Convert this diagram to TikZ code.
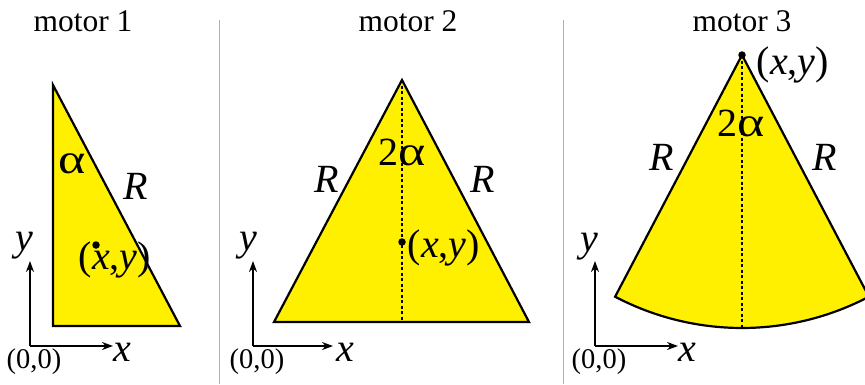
\documentclass[tikz,border=0pt]{standalone}
\usepackage{fontspec}
\usepackage{graphicx}
\setmainfont{Liberation Serif}
\usetikzlibrary{arrows.meta}
\definecolor{fillyellow}{RGB}{255,240,0}
\definecolor{sepgray}{RGB}{175,175,175}
\newcommand{\wal}{\scalebox{1.3}[1.05]{α}}
\begin{document}
\begin{tikzpicture}[x=1pt,y=-1pt,
  shapeline/.style={draw=black,line width=2.2pt,fill=fillyellow,line join=miter},
  axisarrow/.style={line width=2pt,-{Stealth[length=11pt,width=8pt]}},
  midline/.style={line width=1.6pt,dash pattern=on 3pt off 2.5pt},
  sep/.style={draw=sepgray,line width=1pt},
  ttl/.style={font=\fontsize{31.5}{34}\selectfont,inner sep=0pt},
  mlab/.style={font=\fontsize{40}{44}\selectfont,inner sep=0pt},
  olab/.style={font=\fontsize{28.5}{30}\selectfont,inner sep=0pt},
  dotstyle/.style={circle,fill=black,inner sep=0pt,minimum size=7.5pt}]
\useasboundingbox (0,0) rectangle (865,384);
\fill[white] (0,0) rectangle (865,384);

% separators
\coordinate (s1t) at (219,20); \coordinate (s1b) at (219,384);
\coordinate (s2t) at (563,20); \coordinate (s2b) at (563,384);
\draw[sep] (s1t) -- (s1b);
\draw[sep] (s2t) -- (s2b);

% ---------- motor 1 ----------
\node[ttl,anchor=base] (t1) at (83,31) {motor 1};
\coordinate (p1a) at (53,85);
\coordinate (p1b) at (53,326);
\coordinate (p1c) at (180,326);
\draw[shapeline] (p1a) -- (p1b) -- (p1c) -- cycle;
\node[mlab] (al1) at (72,164) {\wal};
\node[mlab] (R1) at (136,186) {\itshape R};
\node[dotstyle] (d1) at (96,245) {};
\node[mlab] (xy1) at (115,260) {(\textit{x},\textit{y})};
\coordinate (o1) at (30,346);
\coordinate (ya1) at (30,261);
\coordinate (xa1) at (113,346);
\draw[axisarrow] (o1) -- (ya1);
\draw[axisarrow] (o1) -- (xa1);
\node[mlab] (ly1) at (24,246) {\itshape y};
\node[mlab] (lx1) at (122,352) {\itshape x};
\node[olab] (or1) at (34,362) {(0,0)};

% ---------- motor 2 ----------
\node[ttl,anchor=base] (t2) at (408,31) {motor 2};
\coordinate (p2a) at (402,80);
\coordinate (p2b) at (274,322);
\coordinate (p2c) at (529,322);
\coordinate (p2m) at (402,322);
\draw[shapeline] (p2a) -- (p2b) -- (p2c) -- cycle;
\draw[midline] (p2a) -- (p2m);
\node[mlab] (al2) at (402,152) {2\wal};
\node[mlab] (R2l) at (327,179) {\itshape R};
\node[mlab] (R2r) at (483,179) {\itshape R};
\node[dotstyle] (d2) at (402,242) {};
\node[mlab] (xy2) at (444,248) {(\textit{x},\textit{y})};
\coordinate (o2) at (253,346);
\coordinate (ya2) at (253,261);
\coordinate (xa2) at (333,346);
\draw[axisarrow] (o2) -- (ya2);
\draw[axisarrow] (o2) -- (xa2);
\node[mlab] (ly2) at (248,246) {\itshape y};
\node[mlab] (lx2) at (345,352) {\itshape x};
\node[olab] (or2) at (257,362) {(0,0)};

% ---------- motor 3 ----------
\node[ttl,anchor=base] (t3) at (742,31) {motor 3};
\coordinate (p3a) at (742,55);
\coordinate (p3m) at (742,328);
\draw[shapeline] (p3a) -- ++(-117.7:273pt) arc[start angle=-117.7,end angle=-62.3,radius=273pt] -- cycle;
\draw[midline] (p3a) -- (p3m);
\node[mlab] (al3) at (741,123) {2\wal};
\node[mlab] (R3l) at (662,157) {\itshape R};
\node[mlab] (R3r) at (825,157) {\itshape R};
\node[dotstyle] (d3) at (742,55) {};
\node[mlab] (xy3) at (793,65) {(\textit{x},\textit{y})};
\coordinate (o3) at (595,346);
\coordinate (ya3) at (595,261);
\coordinate (xa3) at (678,346);
\draw[axisarrow] (o3) -- (ya3);
\draw[axisarrow] (o3) -- (xa3);
\node[mlab] (ly3) at (589,247) {\itshape y};
\node[mlab] (lx3) at (687,352) {\itshape x};
\node[olab] (or3) at (599,362) {(0,0)};
\end{tikzpicture}
\end{document}
